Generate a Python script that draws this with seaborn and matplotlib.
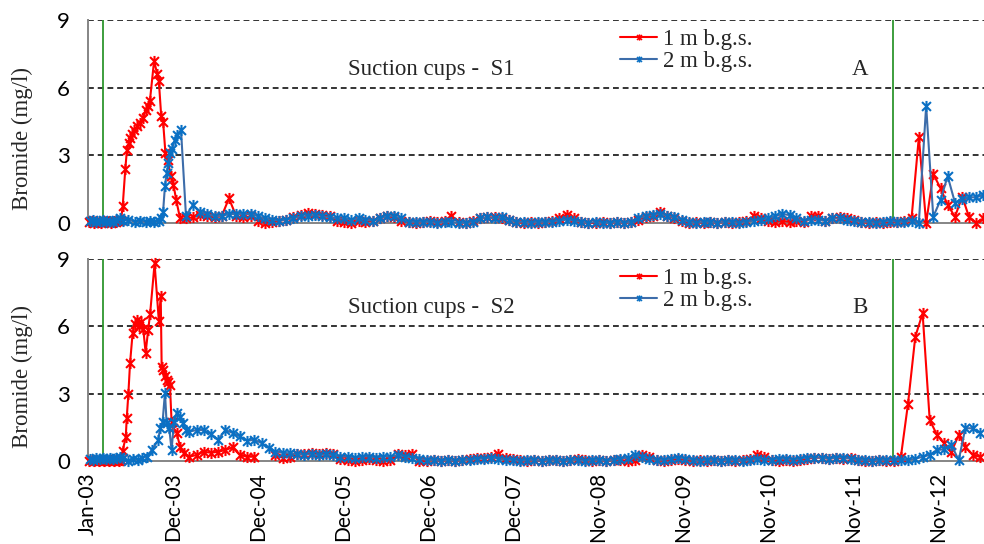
import numpy as np
import pandas as pd
import matplotlib
matplotlib.use("Agg")
import matplotlib.pyplot as plt
import matplotlib.dates as mdates
from matplotlib.path import Path
from matplotlib.lines import Line2D
import seaborn as sns

START = pd.Timestamp("2003-01-01")

# Bromide tracer applications
applications = ["2003-03-05", "2012-05-03"]

# ---- Suction cups S1 -------------------------------------------------------
# first breakthrough, dense sampling (days since 1 Jan 2003)
s1_1m_days = [5, 15, 26, 36, 47, 57, 68, 78, 89, 99,
              110, 120, 131, 140, 147, 158, 165, 172, 178, 185,
              195, 208, 220, 232, 245, 253, 262, 280, 293, 300,
              310, 318, 328, 338, 350, 362, 374, 390]
s1_1m_early = [0.05, 0.1, 0.0, 0.1, 0.05, 0.0, 0.1, 0.05, 0.1, 0.0,
               0.1, 0.05, 0.1, 0.15, 0.75, 2.4, 3.25, 3.55, 3.75, 3.95,
               4.12, 4.28, 4.45, 4.65, 5.0, 5.2, 5.4, 7.2, 6.6, 6.3,
               4.75, 4.5, 3.1, 2.8, 2.1, 1.7, 1.0, 0.2]
s1_2m_days = [8, 22, 36, 50, 64, 78, 92, 106, 120, 134,
              150, 170, 200, 222, 245, 262, 280, 300, 310, 318,
              326, 333, 340, 347, 356, 368, 376, 394]
s1_2m_early = [0.1, 0.15, 0.05, 0.1, 0.15, 0.05, 0.1, 0.05, 0.15, 0.2,
               0.1, 0.15, 0.05, 0.1, 0.05, 0.1, 0.05, 0.1, 0.2, 0.5,
               1.65, 2.2, 2.65, 3.1, 3.3, 3.7, 3.9, 4.12]
# routine monthly sampling (20th of each month, Feb 2004 - May 2013)
s1_months = pd.date_range("2004-02-20", periods=112, freq=pd.DateOffset(months=1))
s1_1m_late = [0.2, 0.25, 0.35, 0.3, 0.25, 0.3, 1.09, 0.3, 0.25, 0.3,
              0.1, 0.0, 0.05, 0.1, 0.15, 0.25, 0.35, 0.45, 0.4, 0.35,
              0.3, 0.1, 0.05, 0.0, 0.1, 0.05, 0.1, 0.2, 0.3, 0.25,
              0.1, 0.05, 0.0, 0.05, 0.1, 0.05, 0.1, 0.33, 0.05, 0.0,
              0.1, 0.2, 0.25, 0.25, 0.2, 0.15, 0.05, 0.0, 0.05, 0.0,
              0.05, 0.1, 0.2, 0.37, 0.2, 0.05, 0.0, 0.0, 0.05, 0.0,
              0.05, 0.0, 0.05, 0.15, 0.25, 0.3, 0.5, 0.3, 0.2, 0.1,
              0.0, 0.05, 0.0, 0.05, 0.0, 0.05, 0.0, 0.05, 0.1, 0.3,
              0.2, 0.1, 0.05, 0.1, 0.05, 0.1, 0.05, 0.3, 0.33, 0.1,
              0.2, 0.25, 0.2, 0.15, 0.05, 0.0, 0.05, 0.0, 0.05, 0.05,
              0.1, 0.2, 3.8, 0.0, 2.17, 1.54, 0.8, 0.28, 1.17, 0.28,
              0.0, 0.2]
s1_2m_late = [0.31, 0.8, 0.5, 0.4, 0.3, 0.3, 0.4, 0.4, 0.4, 0.4,
              0.3, 0.2, 0.15, 0.1, 0.15, 0.2, 0.3, 0.3, 0.35, 0.3,
              0.25, 0.2, 0.2, 0.15, 0.2, 0.15, 0.1, 0.2, 0.3, 0.3,
              0.2, 0.05, 0.05, 0.05, 0.05, 0.0, 0.05, 0.05, 0.0, 0.0,
              0.05, 0.2, 0.25, 0.2, 0.25, 0.15, 0.05, 0.05, 0.0, 0.05,
              0.05, 0.05, 0.1, 0.15, 0.1, 0.05, 0.0, 0.05, 0.0, 0.0,
              0.05, 0.0, 0.05, 0.2, 0.3, 0.35, 0.4, 0.3, 0.25, 0.15,
              0.05, 0.0, 0.05, 0.05, 0.0, 0.05, 0.05, 0.0, 0.05, 0.1,
              0.15, 0.2, 0.3, 0.4, 0.35, 0.2, 0.1, 0.15, 0.15, 0.1,
              0.2, 0.2, 0.15, 0.1, 0.05, 0.05, 0.0, 0.05, 0.1, 0.05,
              0.05, 0.1, 0.0, 5.19, 0.28, 1.02, 2.08, 0.9, 1.05, 1.14,
              1.14, 1.24]

# ---- Suction cups S2 -------------------------------------------------------
s2_1m_days = [5, 15, 26, 36, 47, 57, 68, 78, 89, 99,
              110, 120, 131, 140, 147, 160, 164, 171, 178, 189,
              197, 206, 216, 225, 234, 244, 255, 263, 282, 300,
              308, 312, 319, 326, 333, 340, 347, 354, 361, 376,
              390, 405]
s2_1m_early = [0.0, 0.05, 0.0, 0.05, 0.0, 0.05, 0.0, 0.05, 0.0, 0.05,
               0.0, 0.05, 0.0, 0.05, 0.46, 1.08, 1.9, 3.0, 4.35, 5.7,
               6.1, 6.3, 6.0, 6.2, 5.9, 4.83, 5.85, 6.55, 8.8, 6.25,
               7.35, 4.2, 4.05, 3.8, 3.6, 3.5, 3.39, 1.75, 1.46, 1.23,
               0.64, 0.35]
s2_2m_days = [8, 22, 36, 50, 64, 78, 92, 106, 120, 134,
              150, 170, 190, 210, 230, 250, 270, 298, 305, 316,
              326, 333, 344, 354, 364, 376, 390, 401, 415]
s2_2m_early = [0.1, 0.05, 0.15, 0.1, 0.15, 0.1, 0.15, 0.1, 0.15, 0.2,
               0.15, 0.0, 0.1, 0.05, 0.15, 0.2, 0.49, 0.94, 1.46, 1.75,
               3.05, 1.68, 1.46, 0.49, 1.75, 2.12, 1.97, 1.68, 1.4]
# routine monthly sampling (5th of each month, Mar 2004 - May 2013)
s2_months = pd.date_range("2004-03-05", periods=111, freq=pd.DateOffset(months=1))
s2_1m_late = [0.19, 0.27, 0.41, 0.37, 0.41, 0.49, 0.61, 0.27, 0.19, 0.19,
              np.nan, np.nan, 0.27, 0.15, 0.2, 0.3, 0.3, 0.35, 0.3, 0.35,
              0.3, 0.1, 0.05, 0.0, 0.05, 0.1, 0.05, 0.0, 0.05, 0.3,
              0.25, 0.3, 0.0, 0.0, 0.05, 0.0, 0.05, 0.0, 0.05, 0.1,
              0.15, 0.15, 0.2, 0.3, 0.15, 0.1, 0.05, 0.0, 0.05, 0.0,
              0.05, 0.05, 0.0, 0.05, 0.1, 0.05, 0.0, 0.05, 0.0, 0.05,
              0.05, 0.0, 0.05, 0.25, 0.2, 0.05, 0.0, 0.05, 0.1, 0.05,
              0.0, 0.05, 0.0, 0.05, 0.0, 0.05, 0.0, 0.05, 0.1, 0.25,
              0.2, 0.05, 0.0, 0.05, 0.0, 0.05, 0.1, 0.15, 0.15, 0.1,
              0.15, 0.1, 0.15, 0.05, 0.0, 0.0, 0.05, 0.0, 0.0, 0.19,
              2.54, 5.54, 6.58, 1.83, 1.16, 0.79, 0.41, 1.16, 0.64, 0.27,
              0.19]
s2_2m_late = [1.31, 1.38, 1.38, 1.2, 0.94, 1.38, 1.25, 1.1, 0.9, 0.95,
              0.8, 0.57, 0.42, 0.36, 0.34, 0.3, 0.28, 0.3, 0.25, 0.3,
              0.25, 0.2, 0.2, 0.15, 0.2, 0.2, 0.15, 0.2, 0.2, 0.25,
              0.2, 0.15, 0.1, 0.05, 0.05, 0.0, 0.05, 0.0, 0.05, 0.05,
              0.1, 0.1, 0.15, 0.1, 0.05, 0.05, 0.0, 0.05, 0.05, 0.0,
              0.05, 0.05, 0.0, 0.05, 0.05, 0.0, 0.05, 0.05, 0.0, 0.05,
              0.1, 0.15, 0.28, 0.2, 0.1, 0.05, 0.05, 0.1, 0.15, 0.1,
              0.05, 0.0, 0.05, 0.05, 0.0, 0.05, 0.05, 0.0, 0.05, 0.1,
              0.05, 0.05, 0.1, 0.1, 0.05, 0.1, 0.15, 0.15, 0.15, 0.1,
              0.15, 0.15, 0.1, 0.05, 0.05, 0.0, 0.05, 0.05, 0.05, 0.05,
              0.05, 0.1, 0.19, 0.27, 0.49, 0.52, 0.71, 0.04, 1.46, 1.46,
              1.26]

series_labels = ["1 m b.g.s.", "2 m b.g.s."]
panel_titles = ["Suction cups -  S1", "Suction cups -  S2"]
panel_letters = ["A", "B"]
y_ticks = [0, 3, 6, 9]

RED = "#FF0000"
BLUE_LINE = "#3D6DAA"
BLUE_MARK = "#0A70C4"
GREEN = "#2E962E"
GREY = "#858585"
SERIF = "Liberation Serif"

# asterisk-like marker: an "x" with a vertical stroke
STAR = Path([(-1, -1), (1, 1), (-1, 1), (1, -1), (0, -1.25), (0, 1.25)],
            [Path.MOVETO, Path.LINETO, Path.MOVETO, Path.LINETO, Path.MOVETO, Path.LINETO])


def series_frame(days, early, months, late):
    dates = list(START + pd.to_timedelta(days, unit="D")) + list(months)
    vals = list(early) + list(late)
    df = pd.DataFrame({"date": dates, "bromide": vals})
    df["segment"] = df["bromide"].isna().cumsum()
    return df.dropna()


panels = [
    (series_frame(s1_1m_days, s1_1m_early, s1_months, s1_1m_late),
     series_frame(s1_2m_days, s1_2m_early, s1_months, s1_2m_late)),
    (series_frame(s2_1m_days, s2_1m_early, s2_months, s2_1m_late),
     series_frame(s2_2m_days, s2_2m_early, s2_months, s2_2m_late)),
]

sns.set_style("white")
plt.rcParams["font.family"] = ["Lato", "DejaVu Sans"]

fig = plt.figure(figsize=(9.84, 5.44), dpi=100)
W, H = 984, 544
ax_boxes = [(88, 20, 984, 223), (88, 259, 984, 461)]
axes = []
for (l, t, r, b) in ax_boxes:
    axes.append(fig.add_axes([l / W, 1 - b / H, (r - l) / W, (b - t) / H]))

x_ticks = [START + pd.Timedelta(days=360 * k) for k in range(11)]
x_end = START + pd.Timedelta(days=3795)

for k, ax in enumerate(axes):
    df_1m, df_2m = panels[k]
    for v in (3, 6, 9):
        ax.axhline(v, color="#333333", lw=1.4, ls=(0, (3, 2)), zorder=1)
    for d in applications:
        ax.axvline(pd.Timestamp(d), color=GREEN, lw=1.3, zorder=2)

    for df, lc, mc in ((df_1m, RED, RED), (df_2m, BLUE_LINE, BLUE_MARK)):
        sns.lineplot(data=df, x="date", y="bromide", units="segment", estimator=None,
                     ax=ax, color=lc, linewidth=1.5, marker=STAR, markersize=8,
                     markeredgewidth=1.5, markeredgecolor=mc, markerfacecolor=mc,
                     clip_on=False, zorder=3)

    ax.set_ylim(0, 9)
    ax.set_xlim(START, x_end)
    ax.set_yticks(y_ticks)
    ax.set_xticks(x_ticks)
    ax.xaxis.set_major_formatter(mdates.DateFormatter("%b-%y"))
    ax.set_xlabel("")
    ax.set_ylabel("")
    for side in ("top", "right"):
        ax.spines[side].set_visible(False)
    for side in ("left", "bottom"):
        ax.spines[side].set_color(GREY)
        ax.spines[side].set_linewidth(1.4)
    ax.tick_params(axis="y", direction="out", length=5, width=1.2, color=GREY,
                   pad=8, labelsize=16, labelcolor="black")
    ax.tick_params(axis="x", direction="inout", length=10, width=1.2, color=GREY,
                   pad=3, labelsize=15, labelrotation=90, labelcolor="black")
    if k == 0:
        ax.tick_params(axis="x", labelbottom=False)

    ax.text(0.290, 0.758, panel_titles[k], transform=ax.transAxes, ha="left",
            va="center", fontsize=16.5, family=SERIF)
    ax.text(0.862, 0.758, panel_letters[k], transform=ax.transAxes, ha="center",
            va="center", fontsize=16.5, family=SERIF)

    handles = [Line2D([], [], color=RED, lw=1.5, marker=STAR, markersize=4.5,
                      markeredgewidth=1.1, markeredgecolor=RED),
               Line2D([], [], color=BLUE_LINE, lw=1.5, marker=STAR, markersize=4.5,
                      markeredgewidth=1.1, markeredgecolor=BLUE_MARK)]
    ax.legend(handles, series_labels, loc="upper left", bbox_to_anchor=(0.594, 0.955),
              frameon=False, prop={"family": SERIF, "size": 16.5}, handlelength=1.6,
              handletextpad=0.25, labelspacing=0.02, borderpad=0, borderaxespad=0)

fig.text(22 / W, 1 - 139 / H, "Bromide (mg/l)", rotation=90, ha="center", va="center",
         fontsize=16.5, family=SERIF)
fig.text(22 / W, 1 - 376 / H, "Bromide (mg/l)", rotation=90, ha="center", va="center",
         fontsize=16.5, family=SERIF)

fig.savefig("out.png", dpi=100)
